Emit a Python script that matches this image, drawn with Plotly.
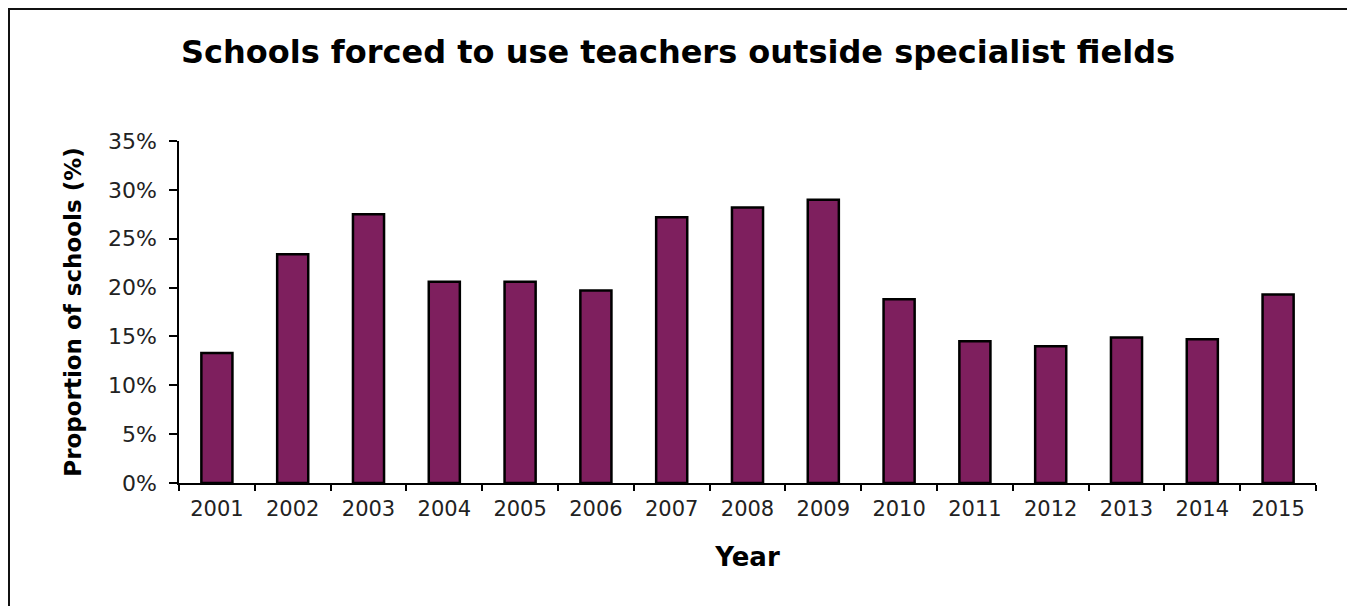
import plotly.graph_objects as go

years = ["2001", "2002", "2003", "2004", "2005", "2006", "2007", "2008",
         "2009", "2010", "2011", "2012", "2013", "2014", "2015"]
proportions = [13.3, 23.4, 27.5, 20.6, 20.6, 19.7, 27.2, 28.2,
               29.0, 18.8, 14.5, 14.0, 14.9, 14.7, 19.3]

title_text = "Schools forced to use teachers outside specialist fields"
x_title = "Year"
y_title = "Proportion of schools (%)"

FONT = "DejaVu Sans"
# page body has an 8px margin, so figure coords = screen coords - 8
W, H = 1347, 598
L, R, T, B = 171, 39, 133, 123
pw = W - L - R
ph = H - T - B

fig = go.Figure(go.Bar(
    x=years, y=proportions,
    marker=dict(color="#7E1F5E", line=dict(color="#000000", width=2.5)),
    width=0.41,
))

def px_x(p):
    return (p - L) / pw

def px_y(p):
    return (H - B - p) / ph

fig.update_layout(
    width=W, height=H,
    margin=dict(l=L, r=R, t=T, b=B, autoexpand=False),
    paper_bgcolor="white", plot_bgcolor="white",
    showlegend=False,
    font=dict(family=FONT, color="#222222"),
    title=dict(text="<b>" + title_text + "</b>", xref="container",
               x=(678 - 8) / W, xanchor="center",
               y=1 - 44 / H, yanchor="middle",
               font=dict(family=FONT, size=32, color="#000000")),
    xaxis=dict(
        type="category", showgrid=False, showline=True, linecolor="#000000", linewidth=1.5,
        ticks="outside", tickson="boundaries", ticklen=6, tickcolor="#000000", tickwidth=1.5,
        ticklabelstandoff=6,
        tickfont=dict(family=FONT, size=21, color="#222222"),
        title=dict(text="<b>" + x_title + "</b>", font=dict(family=FONT, size=26, color="#000000"), standoff=28),
    ),
    yaxis=dict(
        range=[0, 35], dtick=5, ticksuffix="%", showgrid=False, zeroline=False,
        showline=True, linecolor="#000000", linewidth=1.5,
        ticks="outside", ticklen=8, tickcolor="#000000", tickwidth=1.5,
        ticklabelstandoff=8,
        tickfont=dict(family=FONT, size=22, color="#222222"),
        title=dict(text="<b>" + y_title + "</b>", font=dict(family=FONT, size=23, color="#000000"), standoff=20),
    ),
    shapes=[dict(type="rect", xref="paper", yref="paper",
                 x0=px_x(1), x1=px_x(1341), y0=px_y(640), y1=px_y(1),
                 line=dict(color="#111111", width=2), fillcolor="rgba(0,0,0,0)")],
)

fig.write_html("out.html")
